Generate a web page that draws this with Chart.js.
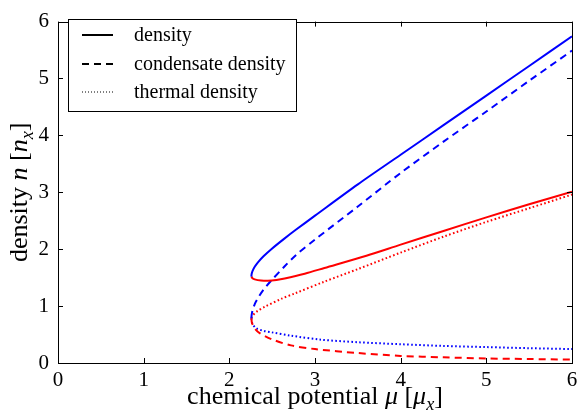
<!DOCTYPE html>
<html>
<head>
<meta charset="utf-8">
<script src="https://cdn.jsdelivr.net/npm/chart.js@4/dist/chart.umd.min.js"></script>
<style>
html,body{margin:0;padding:0;background:#fff;}
canvas{display:block;}
</style>
</head>
<body>
<canvas id="c" width="584" height="418"></canvas>
<script>
// ---- data ----
const xTicks = [0, 1, 2, 3, 4, 5, 6];
const yTicks = [0, 1, 2, 3, 4, 5, 6];
const legendLabels = ['density', 'condensate density', 'thermal density'];

// total density, upper (blue) and lower (red) branch
const densityBlue = [[2.257,1.52],[2.261,1.57],[2.2715,1.62],[2.298,1.695],[2.334,1.77],[2.402,1.88],[2.49,2.00],[2.646,2.19],[2.78,2.345],[3.0,2.59],[3.5,3.14],[4.0,3.66],[4.5,4.18],[5.0,4.70],[5.5,5.22],[6.0,5.74]];
const densityRed = [[2.257,1.52],[2.27,1.49],[2.296,1.47],[2.37,1.45],[2.45,1.445],[2.55,1.46],[2.646,1.486],[2.88,1.57],[3.11,1.67],[3.6,1.885],[4.0,2.08],[4.5,2.32],[5.0,2.56],[5.5,2.79],[6.0,3.01]];
// condensate density
const condensateBlue = [[2.257,0.79],[2.261,0.85],[2.272,0.93],[2.298,1.04],[2.334,1.14],[2.40,1.29],[2.49,1.45],[2.646,1.70],[2.78,1.90],[3.0,2.17],[3.5,2.75],[4.0,3.34],[4.5,3.89],[5.0,4.42],[5.5,4.96],[6.0,5.49]];
const condensateRed = [[2.257,0.79],[2.265,0.70],[2.30,0.60],[2.354,0.525],[2.49,0.42],[2.72,0.31],[3.0,0.245],[3.5,0.175],[4.0,0.125],[4.5,0.10],[5.0,0.08],[5.5,0.07],[6.0,0.06]];
// thermal density
const thermalBlue = [[2.257,0.79],[2.27,0.69],[2.315,0.61],[2.40,0.565],[2.49,0.54],[2.72,0.48],[3.07,0.41],[3.5,0.365],[4.0,0.33],[4.5,0.30],[5.0,0.28],[5.5,0.26],[6.0,0.245]];
const thermalRed = [[2.257,0.79],[2.276,0.84],[2.33,0.915],[2.41,0.985],[2.61,1.13],[2.76,1.22],[3.11,1.43],[3.5,1.65],[4.0,1.94],[4.5,2.22],[5.0,2.48],[5.5,2.72],[6.0,2.96]];

const SERIF = '"Liberation Serif", "DejaVu Serif", serif';
const DASH = [7, 5];
const DOT = [1.6, 2.4];

function pts(a) { return a.map(p => ({x: p[0], y: p[1]})); }
function ds(data, color, dash) {
  return {data: pts(data), borderColor: color, borderWidth: 2, borderDash: dash,
          showLine: true, pointRadius: 0, pointHoverRadius: 0, tension: 0.3, fill: false};
}

// draws mixed text runs: {t, it, sub}
function drawRuns(ctx, runs, size, cx, baseY) {
  const fontOf = r => (r.it ? 'italic ' : '') + (r.sub ? size * 0.7 : size) + 'px ' + SERIF;
  let w = 0;
  runs.forEach(r => { ctx.font = fontOf(r); r.w = ctx.measureText(r.t).width; w += r.w; });
  let x = cx - w / 2;
  ctx.textAlign = 'left';
  ctx.textBaseline = 'alphabetic';
  runs.forEach(r => {
    ctx.font = fontOf(r);
    ctx.fillText(r.t, x, baseY + (r.sub ? size * 0.22 : 0));
    x += r.w;
  });
}

const decor = {
  id: 'decor',
  afterDatasetsDraw(chart) {
    const {ctx, chartArea: a, scales: {x, y}} = chart;
    ctx.save();
    ctx.fillStyle = '#000';
    ctx.strokeStyle = '#000';
    ctx.lineWidth = 1;
    ctx.setLineDash([]);
    // spines
    ctx.strokeRect(Math.round(a.left) + 0.5, Math.round(a.top) + 0.5,
                   Math.round(a.right - a.left), Math.round(a.bottom - a.top));
    // inward ticks
    const tl = 5;
    ctx.beginPath();
    xTicks.forEach(v => {
      const px = Math.round(x.getPixelForValue(v)) + 0.5;
      ctx.moveTo(px, a.bottom); ctx.lineTo(px, a.bottom - tl);
      ctx.moveTo(px, a.top); ctx.lineTo(px, a.top + tl);
    });
    yTicks.forEach(v => {
      const py = Math.round(y.getPixelForValue(v)) + 0.5;
      ctx.moveTo(a.left, py); ctx.lineTo(a.left + tl, py);
      ctx.moveTo(a.right, py); ctx.lineTo(a.right - tl, py);
    });
    ctx.stroke();

    // legend
    const bx = 68, by = 19, bw = 228, bh = 92;
    ctx.fillStyle = '#fff';
    ctx.fillRect(bx, by, bw, bh);
    ctx.strokeRect(bx + 0.5, by + 0.5, bw, bh);
    const rows = [35, 64, 92];
    const dashes = [[], DASH, [1, 2]];
    const widths = [2, 2, 1.2];
    rows.forEach((ry, i) => {
      ctx.beginPath();
      ctx.setLineDash(dashes[i]);
      ctx.lineWidth = widths[i];
      ctx.moveTo(82, ry); ctx.lineTo(113, ry);
      ctx.stroke();
      ctx.setLineDash([]);
      ctx.fillStyle = '#000';
      ctx.font = '20px ' + SERIF;
      ctx.textAlign = 'left';
      ctx.textBaseline = 'alphabetic';
      ctx.fillText(legendLabels[i], 134, ry + 6);
    });

    // axis titles
    ctx.fillStyle = '#000';
    const cx = (a.left + a.right) / 2;
    drawRuns(ctx, [{t: 'chemical potential '}, {t: 'μ', it: true}, {t: ' ['}, {t: 'μ', it: true}, {t: 'x', it: true, sub: true}, {t: ']'}], 26, cx, 404);
    ctx.save();
    ctx.translate(27, (a.top + a.bottom) / 2);
    ctx.rotate(-Math.PI / 2);
    drawRuns(ctx, [{t: 'density '}, {t: 'n', it: true}, {t: ' ['}, {t: 'n', it: true}, {t: 'x', it: true, sub: true}, {t: ']'}], 26, 0, 0);
    ctx.restore();
    ctx.restore();
  }
};

new Chart(document.getElementById('c'), {
  type: 'scatter',
  data: {
    datasets: [
      ds(densityBlue, '#0000ff', []),
      ds(densityRed, '#ff0000', []),
      ds(condensateBlue, '#0000ff', DASH),
      ds(condensateRed, '#ff0000', DASH),
      ds(thermalBlue, '#0000ff', DOT),
      ds(thermalRed, '#ff0000', DOT)
    ]
  },
  options: {
    responsive: false,
    devicePixelRatio: 1,
    animation: false,
    layout: {padding: {left: 0, right: 12, top: 9, bottom: 0}},
    plugins: {legend: {display: false}, tooltip: {enabled: false}},
    scales: {
      x: {
        type: 'linear', min: 0, max: 6,
        afterBuildTicks: s => { s.ticks = xTicks.map(v => ({value: v})); },
        ticks: {color: '#000', font: {family: SERIF, size: 21}, padding: 5, maxRotation: 0},
        grid: {display: false, drawTicks: false},
        border: {display: false},
        afterFit: s => { s.height = 55; }
      },
      y: {
        type: 'linear', min: 0, max: 6,
        afterBuildTicks: s => { s.ticks = yTicks.map(v => ({value: v})); },
        ticks: {color: '#000', font: {family: SERIF, size: 21}, padding: 9},
        grid: {display: false, drawTicks: false},
        border: {display: false},
        afterFit: s => { s.width = 58; }
      }
    }
  },
  plugins: [decor]
});
</script>
</body>
</html>
